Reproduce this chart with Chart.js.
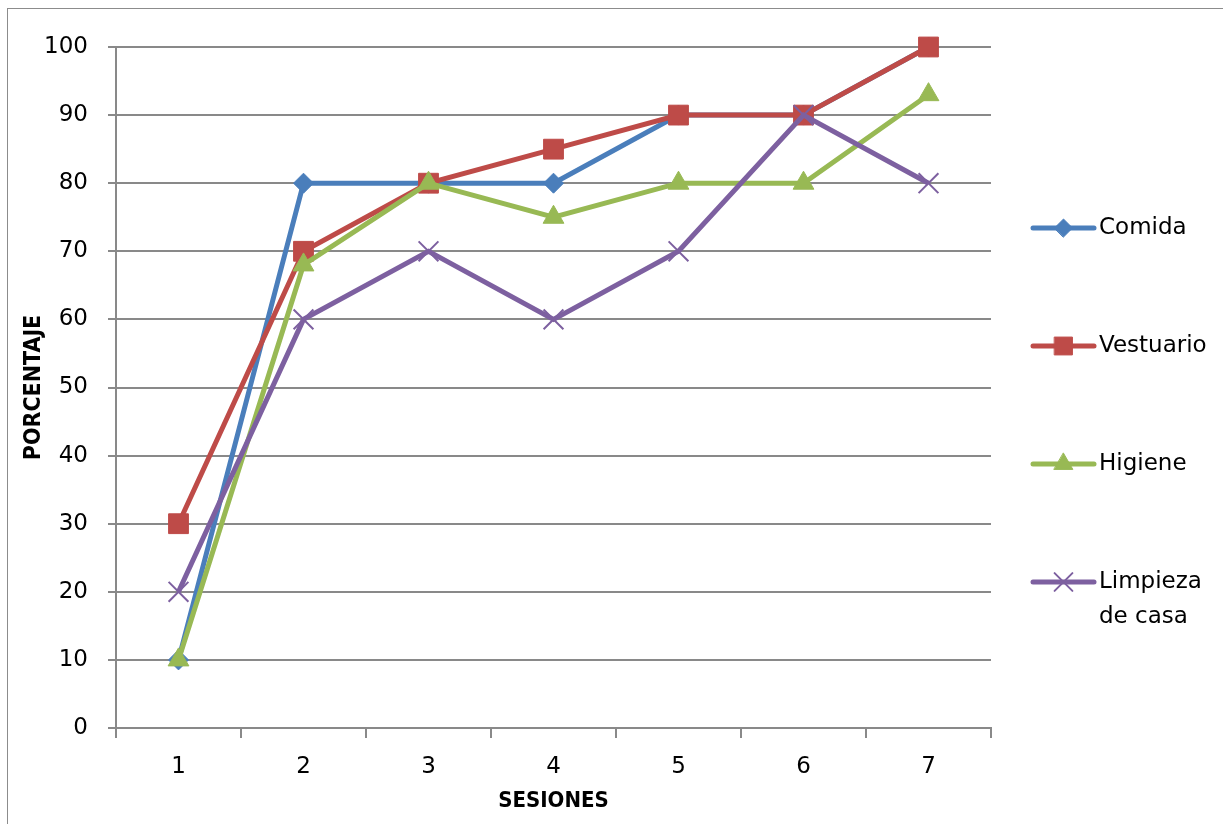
<!DOCTYPE html>
<html>
<head>
<meta charset="utf-8">
<script src="https://cdn.jsdelivr.net/npm/chart.js@4/dist/chart.umd.min.js"></script>
<style>
  body { margin: 0; background: #fff; overflow: hidden; }
  #frame { position: absolute; left: 7px; top: 8px; width: 1400px; height: 1000px; border: 1px solid #8c8c8c; }
  #chart { position: absolute; left: 0; top: 0; }
</style>
</head>
<body>
<div id="frame"></div>
<canvas id="chart" width="1223" height="824"></canvas>
<script>
// Data
const sesiones = ['1', '2', '3', '4', '5', '6', '7'];
const comida = [10, 80, 80, 80, 90, 90, 100];
const vestuario = [30, 70, 80, 85, 90, 90, 100];
const higiene = [10, 68, 80, 75, 80, 80, 93];
const limpieza = [20, 60, 70, 60, 70, 90, 80];
const seriesNames = ['Comida', 'Vestuario', 'Higiene', ['Limpieza', 'de casa']];

const gridGray = '#898989';

// legend drawn like the Excel one: line with marker, label on the right
const sideLegend = {
    id: 'sideLegend',
    afterDraw(chart) {
        const ctx = chart.ctx;
        const x0 = 1033, x1 = 1094, tx = 1099;
        chart.data.datasets.forEach(function(ds, i) {
            const y = 228 + i * 118;
            ctx.save();
            ctx.strokeStyle = ds.borderColor;
            ctx.lineWidth = ds.borderWidth;
            ctx.lineCap = 'round';
            ctx.beginPath();
            ctx.moveTo(x0, y);
            ctx.lineTo(x1, y);
            ctx.stroke();
            ctx.fillStyle = ds.pointBackgroundColor;
            ctx.strokeStyle = ds.pointBorderColor;
            ctx.lineWidth = ds.pointBorderWidth;
            Chart.helpers.drawPoint(ctx, {pointStyle: ds.pointStyle, radius: ds.pointRadius * 0.9, borderWidth: ds.pointBorderWidth}, (x0 + x1) / 2, y);
            ctx.fillStyle = '#000';
            ctx.font = '23px "DejaVu Sans"';
            ctx.textBaseline = 'middle';
            ctx.textAlign = 'left';
            const lines = [].concat(seriesNames[i]);
            lines.forEach(function(t, k) {
                ctx.fillText(t, tx, y + k * 35);
            });
            ctx.restore();
        });
    }
};

function series(label, data, color, style, radius, order) {
    return {
        label: label,
        data: data,
        borderColor: color,
        backgroundColor: color,
        borderWidth: 5,
        pointStyle: style,
        pointRadius: radius,
        pointHoverRadius: radius,
        pointBackgroundColor: color,
        pointBorderColor: color,
        pointBorderWidth: style === 'crossRot' ? 2 : 1,
        tension: 0,
        fill: false,
        clip: false,
        order: order
    };
}

const ctx = document.getElementById('chart').getContext('2d');
new Chart(ctx, {
    type: 'line',
    data: {
        labels: sesiones,
        datasets: [
            series('Comida', comida, '#4a7ebb', 'rectRot', 10, 3),
            series('Vestuario', vestuario, '#be4b48', 'rect', 14, 2),
            series('Higiene', higiene, '#98b954', 'triangle', 12, 1),
            series('Limpieza de casa', limpieza, '#7d60a0', 'crossRot', 14, 0)
        ]
    },
    options: {
        responsive: false,
        animation: false,
        layout: { padding: { left: 0, top: 47, right: 232, bottom: 0 } },
        plugins: {
            legend: { display: false },
            tooltip: { enabled: false }
        },
        scales: {
            x: {
                offset: true,
                afterFit(scale) { scale.height = 96; },
                grid: { offset: true, drawOnChartArea: false, drawTicks: true, tickLength: 10, color: gridGray, lineWidth: 2 },
                border: { display: true, color: gridGray, width: 2 },
                ticks: { color: '#000', padding: 15, font: { family: 'DejaVu Sans', size: 23 } },
                title: {
                    display: true,
                    text: 'SESIONES',
                    color: '#000',
                    padding: { top: 0, bottom: 10 },
                    font: { family: 'DejaVu Sans Condensed', size: 22, weight: 'bold' }
                }
            },
            y: {
                min: 0,
                max: 100,
                afterFit(scale) { scale.width = 116; },
                ticks: { stepSize: 10, color: '#000', padding: 20, font: { family: 'DejaVu Sans', size: 23 } },
                grid: { color: gridGray, lineWidth: 2, tickLength: 8 },
                border: { display: true, color: gridGray, width: 2 },
                title: {
                    display: true,
                    text: 'PORCENTAJE',
                    color: '#000',
                    padding: { top: 20, bottom: 0 },
                    font: { family: 'DejaVu Sans Condensed', size: 23, weight: 'bold' }
                }
            }
        }
    },
    plugins: [sideLegend]
});
</script>
</body>
</html>
